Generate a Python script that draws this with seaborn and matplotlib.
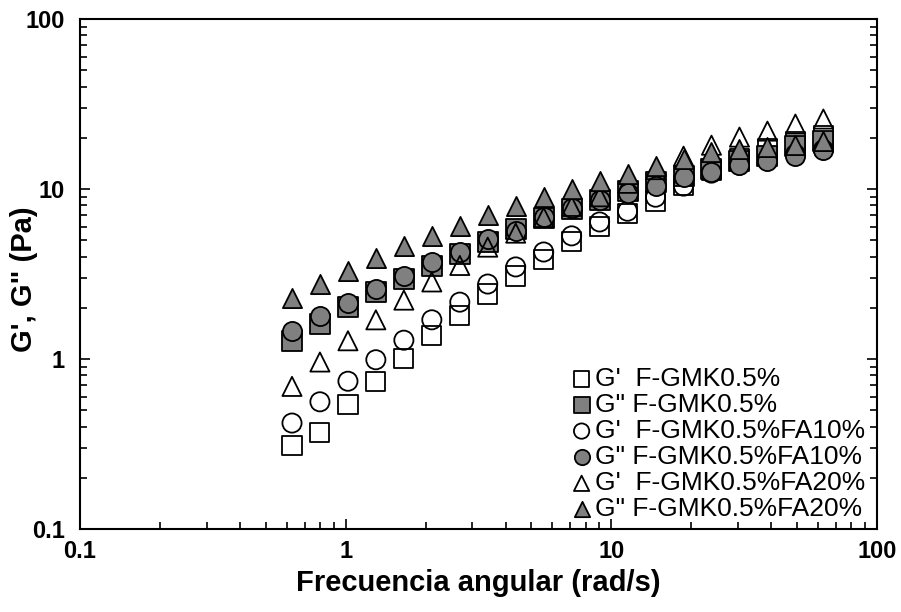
import numpy as np
import pandas as pd
import matplotlib
matplotlib.use("Agg")
import matplotlib.pyplot as plt
import seaborn as sns
from matplotlib.ticker import FixedLocator, FixedFormatter, LogLocator, NullFormatter

# Frecuencia angular (rad/s)
frecuencia = [0.628, 0.800, 1.020, 1.299, 1.656, 2.110, 2.689, 3.426, 4.366, 5.564,
              7.090, 9.035, 11.51, 14.67, 18.70, 23.82, 30.36, 38.69, 49.30, 62.82]

# Modulos (Pa)
gp_gmk = [0.31, 0.37, 0.54, 0.74, 1.01, 1.37, 1.81, 2.41, 3.08, 3.87,
          4.9, 6.05, 7.2, 8.5, 10.5, 12.8, 15.0, 17.2, 19.1, 20.5]
gpp_gmk = [1.28, 1.60, 2.02, 2.48, 2.95, 3.53, 4.15, 4.9, 5.8, 6.76,
           7.6, 8.6, 9.7, 11.0, 11.9, 13.1, 14.6, 15.6, 17.9, 19.2]
gp_fa10 = [0.42, 0.56, 0.74, 0.99, 1.29, 1.70, 2.16, 2.76, 3.48, 4.26,
           5.3, 6.4, 7.4, 8.95, 10.4, 12.4, 13.8, 14.8, 16.0, 17.0]
gpp_fa10 = [1.46, 1.79, 2.13, 2.58, 3.08, 3.72, 4.26, 5.08, 5.7, 6.8,
            7.7, 8.6, 9.5, 10.4, 11.7, 12.6, 13.9, 14.6, 15.6, 16.9]
gp_fa20 = [0.69, 0.96, 1.28, 1.70, 2.22, 2.84, 3.55, 4.55, 5.5, 6.8,
           7.9, 9.0, 10.8, 13.0, 15.6, 18.1, 20.2, 21.9, 24.1, 25.8]
gpp_fa20 = [2.29, 2.76, 3.30, 3.93, 4.62, 5.3, 6.06, 7.0, 7.94, 8.94,
            10.0, 11.1, 12.2, 13.6, 15.0, 16.5, 17.2, 17.7, 18.1, 19.2]

etiquetas = ["G'  F-GMK0.5%", 'G" F-GMK0.5%', "G'  F-GMK0.5%FA10%",
             'G" F-GMK0.5%FA10%', "G'  F-GMK0.5%FA20%", 'G" F-GMK0.5%FA20%']

##########################################################

sns.set_style("ticks")
plt.rcParams['font.family'] = ['Liberation Sans', 'DejaVu Sans']
plt.rcParams['text.color'] = 'k'
plt.rcParams['axes.labelcolor'] = 'k'
plt.rcParams['xtick.color'] = 'k'
plt.rcParams['ytick.color'] = 'k'

fig = plt.figure(figsize=(9.01, 6.12), dpi=100)
ax = fig.add_axes([80 / 901, 1 - 529 / 612, 797 / 901, 510 / 612])

series = [gp_gmk, gpp_gmk, gp_fa10, gpp_fa10, gp_fa20, gpp_fa20]
marcadores = ['s', 's', 'o', 'o', '^', '^']
rellenos = ['none', '#808080', 'none', '#808080', 'none', '#808080']

for val, m, f, lab in zip(series, marcadores, rellenos, etiquetas):
    df = pd.DataFrame({'w': frecuencia, 'G': val})
    sns.scatterplot(data=df, x='w', y='G', marker=m, s=190, color='k',
                    facecolor=f, edgecolor='k', linewidth=1.3, label=lab, ax=ax)

ax.set_xscale('log')
ax.set_yscale('log')
ax.set_xlim(0.1, 100)
ax.set_ylim(0.1, 100)

for axis in (ax.xaxis, ax.yaxis):
    axis.set_major_locator(FixedLocator([0.1, 1, 10, 100]))
    axis.set_major_formatter(FixedFormatter(['0.1', '1', '10', '100']))
    axis.set_minor_locator(LogLocator(base=10, subs=np.arange(2, 10)))
    axis.set_minor_formatter(NullFormatter())

ax.tick_params(which='both', direction='in', right=True, top=False, width=1.2)
ax.tick_params(which='major', length=7, labelsize=17)
ax.tick_params(axis='x', which='major', pad=8)
ax.tick_params(axis='y', which='major', pad=11)
ax.tick_params(which='minor', length=5)
for lab in ax.get_xticklabels() + ax.get_yticklabels():
    lab.set_fontweight('bold')
for sp in ax.spines.values():
    sp.set_linewidth(1.5)
    sp.set_color('k')

ax.set_xlabel('Frecuencia angular (rad/s)', fontsize=21, fontweight='bold')
ax.set_ylabel('G\', G" (Pa)', fontsize=21, fontweight='bold')
ax.xaxis.set_label_coords(0.5, -0.078)
ax.yaxis.set_label_coords(-0.053, 0.49)

ax.legend(loc='lower right', bbox_to_anchor=(0.985, 0.015), frameon=False,
          fontsize=19, markerscale=0.8, handlelength=0.8, handletextpad=0.1,
          labelspacing=0.08, borderpad=0, borderaxespad=0)

fig.savefig('out.png', dpi=100)
